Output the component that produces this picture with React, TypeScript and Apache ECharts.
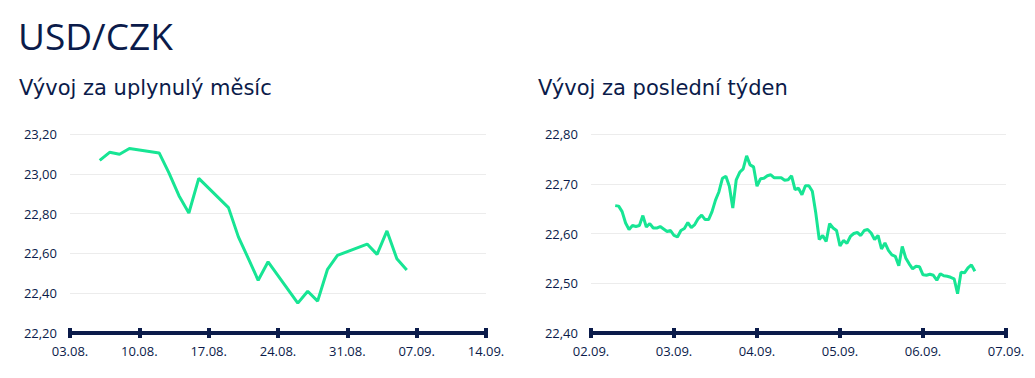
import React, { useEffect, useRef } from "react";
import * as echarts from "echarts";

// Month chart (daily)
const monthDates = [
  "2024-08-06", "2024-08-07", "2024-08-08", "2024-08-09", "2024-08-12",
  "2024-08-13", "2024-08-14", "2024-08-15", "2024-08-16", "2024-08-19",
  "2024-08-20", "2024-08-21", "2024-08-22", "2024-08-23", "2024-08-26",
  "2024-08-27", "2024-08-28", "2024-08-29", "2024-08-30", "2024-09-02",
  "2024-09-03", "2024-09-04", "2024-09-05", "2024-09-06",
];
const monthValues = [
  23.067, 23.108, 23.098, 23.127, 23.105,
  23.003, 22.89, 22.803, 22.977, 22.83,
  22.683, 22.575, 22.465, 22.558, 22.35,
  22.41, 22.36, 22.52, 22.59, 22.647,
  22.595, 22.713, 22.573, 22.517,
];
const monthAxisStart = "2024-08-03";
const monthAxisDays = 42;
const monthTickDays = 7;

// Week chart (hourly, from 02.09. 07:00)
const weekAxisStart = "2024-09-02";
const weekFirstHour = 7;
const weekAxisHours = 120;
const weekTickHours = 24;
const weekValues = [
  22.656, 22.655, 22.644, 22.621, 22.608, 22.616, 22.614, 22.616, 22.636, 22.613,
  22.62, 22.611, 22.611, 22.614, 22.609, 22.604, 22.606, 22.596, 22.593, 22.606,
  22.61, 22.622, 22.612, 22.618, 22.63, 22.637, 22.628, 22.628, 22.644, 22.667,
  22.684, 22.711, 22.715, 22.695, 22.651, 22.708, 22.723, 22.73, 22.756, 22.738,
  22.734, 22.695, 22.71, 22.711, 22.716, 22.718, 22.712, 22.712, 22.712, 22.707,
  22.708, 22.716, 22.688, 22.691, 22.678, 22.696, 22.696, 22.685, 22.641, 22.588,
  22.596, 22.584, 22.62, 22.611, 22.606, 22.575, 22.586, 22.58, 22.594, 22.6,
  22.602, 22.596, 22.606, 22.608, 22.601, 22.588, 22.596, 22.569, 22.581, 22.566,
  22.557, 22.554, 22.535, 22.574, 22.551, 22.539, 22.529, 22.534, 22.533, 22.517,
  22.516, 22.518, 22.516, 22.506, 22.519, 22.515, 22.514, 22.512, 22.509, 22.479,
  22.522, 22.521, 22.531, 22.537, 22.524,
];

const title = "USD/CZK";
const monthTitle = "Vývoj za uplynulý měsíc";
const weekTitle = "Vývoj za poslední týden";

const NAVY = "#0b1b4a";
const GREEN = "#17e594";
const DAY = 86400000;

function dayDiff(a: string, b: string) {
  return Math.round((Date.parse(b + "T00:00:00Z") - Date.parse(a + "T00:00:00Z")) / DAY);
}
function fmtDate(base: string, days: number) {
  const d = new Date(Date.parse(base + "T00:00:00Z") + Math.round(days) * DAY);
  const dd = String(d.getUTCDate()).padStart(2, "0");
  const mm = String(d.getUTCMonth() + 1).padStart(2, "0");
  return `${dd}.${mm}.`;
}

const labelFont = { color: NAVY, fontSize: 13, fontFamily: "Open Sans" };

function xAxes(gridIndex: number, max: number, interval: number, fmt: (v: number) => string) {
  return [
    {
      type: "value", gridIndex, min: 0, max, interval, position: "bottom",
      axisLine: { show: true, lineStyle: { color: NAVY, width: 4 } },
      axisTick: { show: true, inside: false, length: 5, lineStyle: { color: NAVY, width: 4 } },
      axisLabel: { ...labelFont, margin: 11, formatter: fmt },
      splitLine: { show: false },
    },
    {
      type: "value", gridIndex, min: 0, max, interval, position: "bottom",
      axisLine: { show: false },
      axisTick: { show: true, inside: true, length: 5, lineStyle: { color: NAVY, width: 4 } },
      axisLabel: { show: false },
      splitLine: { show: false },
    },
  ];
}

export default function App() {
  const ref = useRef<HTMLDivElement>(null);
  useEffect(() => {
    if (!ref.current) return;
    const chart = echarts.init(ref.current, null, { renderer: "svg" });
    const monthData = monthDates.map((d, i) => [dayDiff(monthAxisStart, d), monthValues[i]]);
    const weekData = weekValues.map((v, i) => [weekFirstHour + i, v]);
    const yCommon = {
      type: "value",
      axisLine: { show: false },
      axisTick: { show: false },
      splitLine: { show: true, lineStyle: { color: "#ececec", width: 1 } },
    };
    chart.setOption({
      animation: false,
      graphic: [
        { type: "text", left: 18, top: 17, style: { text: title, fill: NAVY, font: "400 37px 'Open Sans'" } },
        { type: "text", left: 19, top: 77, style: { text: monthTitle, fill: NAVY, font: "400 21px 'DejaVu Sans'" } },
        { type: "text", left: 538, top: 77, style: { text: weekTitle, fill: NAVY, font: "400 21px 'DejaVu Sans'" } },
      ],
      grid: [
        { left: 70, right: 549, top: 134, bottom: 45 },
        { left: 591, right: 29, top: 134, bottom: 45 },
      ],
      xAxis: [
        ...xAxes(0, monthAxisDays, monthTickDays, (v: number) => fmtDate(monthAxisStart, v)),
        ...xAxes(1, weekAxisHours, weekTickHours, (v: number) => fmtDate(weekAxisStart, v / 24)),
      ],
      yAxis: [
        {
          ...yCommon, gridIndex: 0, min: 22.2, max: 23.2, interval: 0.2,
          axisLabel: { ...labelFont, margin: 13, formatter: (v: number) => v.toFixed(2).replace(".", ",") },
        },
        {
          ...yCommon, gridIndex: 1, min: 22.4, max: 22.8, interval: 0.1,
          axisLabel: { ...labelFont, margin: 13, formatter: (v: number) => v.toFixed(2).replace(".", ",") },
        },
      ],
      series: [
        {
          type: "line", xAxisIndex: 0, yAxisIndex: 0, data: monthData, showSymbol: false,
          lineStyle: { color: GREEN, width: 3 }, itemStyle: { color: GREEN },
        },
        {
          type: "line", xAxisIndex: 2, yAxisIndex: 1, data: weekData, showSymbol: false,
          lineStyle: { color: GREEN, width: 3 }, itemStyle: { color: GREEN },
        },
      ],
    });
    return () => chart.dispose();
  }, []);
  return (
    <div
      ref={ref}
      style={{ position: "fixed", left: 0, top: 0, width: 1035, height: 378, background: "#fff" }}
    />
  );
}
